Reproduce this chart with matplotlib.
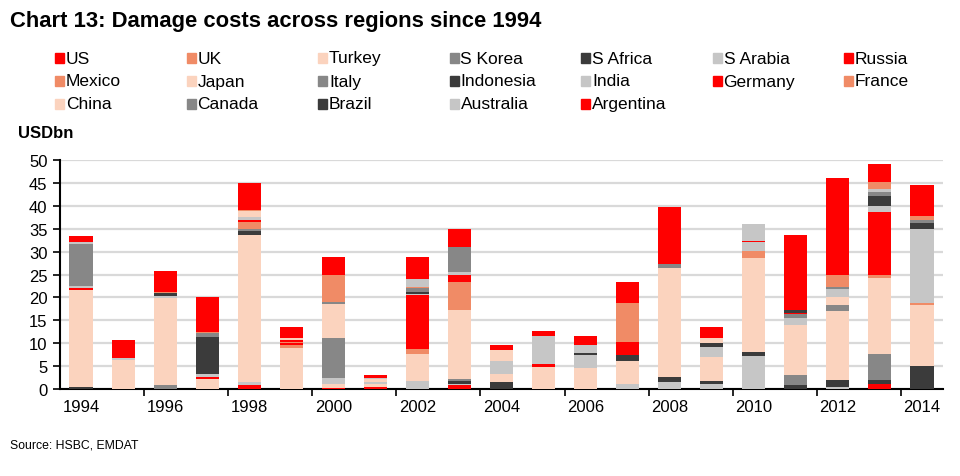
import matplotlib
matplotlib.use("Agg")
import matplotlib.pyplot as plt
from matplotlib.patches import Rectangle
import numpy as np

plt.rcParams["font.family"] = ["Liberation Sans", "DejaVu Sans"]

years = list(range(1994, 2015))

# legend order (row by row, as in the reference)
legend_names = [
    "US", "UK", "Turkey", "S Korea", "S Africa", "S Arabia", "Russia",
    "Mexico", "Japan", "Italy", "Indonesia", "India", "Germany", "France",
    "China", "Canada", "Brazil", "Australia", "Argentina",
]

RED, SALMON, PEACH, GRAY, DARK, LGRAY = "#FF0000", "#F08B66", "#FBD3BE", "#878787", "#3B3B3B", "#C6C6C6"
legend_colors = [RED, SALMON, PEACH, GRAY, DARK, LGRAY] * 3 + [RED]

# values in USD bn, one entry per year 1994..2014
#                1994 95   96   97   98   99  2000  01   02   03   04   05   06   07   08   09  2010  11   12   13   14
argentina = [0,   0,   0,   0,   0.9, 0,   0.3, 0.4, 0,   0.9, 0,   0,   0,   0,   0,   0,   0,   0,   0,   1.1, 0]
australia = [0,   0,   0,   0,   0.6, 0,   0,   0,   1.7, 0.3, 0,   0,   0,   1.1, 1.5, 1.1, 7.3, 0,   0.4, 0,   0]
brazil    = [0.4, 0,   0,   0,   0,   0,   0,   0,   0,   0.6, 1.5, 0,   0,   0,   1.2, 0.6, 0.7, 0.9, 1.6, 0.9, 5.0]
canada    = [0,   0,   0.9, 0,   0,   0,   0,   0,   0,   0.4, 0,   0,   0,   0,   0,   0,   0,   2.2, 0,   5.6, 0]
china     = [21.3, 6.4, 18.9, 2.2, 32.1, 8.9, 0.9, 0.6, 6.0, 15.0, 1.8, 4.9, 4.5, 5.1, 23.7, 5.2, 20.5, 10.9, 15.0, 16.6, 13.4]
france    = [0,   0,   0,   0,   0,   0.6, 0,   0,   1.1, 6.1, 0,   0,   0,   0,   0,   0,   1.6, 0,   0,   0.7, 0.4]
germany   = [0.4, 0,   0,   0.5, 0,   0.5, 0,   0,   11.7, 1.6, 0,  0.5, 0,   0,   0,   0,   0,   0,   0,   13.7, 0]
india     = [0.3, 0.3, 0.6, 0.5, 0,   0,   1.3, 0.5, 0.3, 0.7, 2.8, 6.2, 2.9, 0,   0,   2.2, 2.1, 1.6, 0,   1.4, 16.1]
indonesia = [0,   0,   0.5, 8.1, 1.0, 0,   0,   0,   0.4, 0,   0,   0,   0.5, 1.2, 0,   0.9, 0,   0,   0,   2.2, 1.3]
italy     = [9.3, 0,   0,   0.9, 0.3, 0,   8.6, 0,   0.8, 5.3, 0,   0,   0,   0,   0.9, 0,   0,   0.8, 1.4, 0.8, 0.8]
japan     = [0,   0,   0,   0,   0,   0,   7.4, 0.6, 0,   0,   2.4, 0,   0,   0,   0,   1.1, 0,   0,   1.6, 0,   0]
mexico    = [0,   0,   0.3, 0.3, 1.6, 0.3, 0,   0,   0.3, 0,   0,   0,   0,   0,   0,   0,   0,   0,   0,   0,   0.7]
russia    = [0,   0.5, 1.2, 0,   0.5, 0.5, 0,   0,   0,   0,   0,   0,   0,   2.9, 0,   0,   0.2, 0.3, 0,   0,   0]
s_arabia  = [0.3, 0,   0,   0,   0.5, 0,   0,   0.3, 1.7, 0,   0,   0,   1.6, 0,   0,   0,   3.6, 0,   1.8, 0.6, 0]
s_africa  = [0,   0,   0,   0,   0,   0,   0,   0,   0,   0,   0,   0,   0,   0,   0,   0,   0,   0.5, 0,   0,   0]
s_korea   = [0,   0,   0,   0,   0,   0,   0.4, 0,   0,   0,   0,   0,   0,   0,   0,   0,   0,   0,   0.4, 0,   0]
turkey    = [0,   0,   0,   0,   1.3, 0.4, 0,   0,   0,   0,   0,   0,   0,   0,   0,   0,   0,   0,   0,   0,   0]
uk        = [0,   0,   0,   0,   0.3, 0,   6.0, 0,   0,   0,   0,   0,   0,   8.5, 0,   0,   0,   0,   2.7, 1.6, 0]
us        = [1.3, 3.6, 3.3, 7.5, 5.9, 2.4, 4.0, 0.7, 4.9, 4.0, 1.1, 1.1, 2.0, 4.5, 12.4, 2.5, 0,   16.5, 21.2, 3.9, 6.9]

# stacking order, bottom to top
stack = [
    ("Argentina", argentina), ("Australia", australia), ("Brazil", brazil),
    ("Canada", canada), ("China", china), ("France", france),
    ("Germany", germany), ("India", india), ("Indonesia", indonesia),
    ("Italy", italy), ("Japan", japan), ("Mexico", mexico),
    ("Russia", russia), ("S Arabia", s_arabia), ("S Africa", s_africa),
    ("S Korea", s_korea), ("Turkey", turkey), ("UK", uk), ("US", us),
]
color_of = dict(zip(legend_names, legend_colors))


def main():
    fig = plt.figure(figsize=(9.6, 4.77), dpi=100)
    ax = fig.add_axes([60 / 960, 1 - 390 / 477, 883 / 960, 229 / 477])

    bottom = np.zeros(len(years))
    for name, vals in stack:
        v = np.array(vals, dtype=float)
        ax.bar(years, v, bottom=bottom, width=0.55, color=color_of[name],
               linewidth=0, zorder=3)
        bottom += v

    ax.set_xlim(1993.5, 2014.5)
    ax.set_ylim(0, 50)
    ax.set_yticks(range(0, 51, 5))
    ax.yaxis.grid(True, color="#D9D9D9", linewidth=1.6, zorder=0)
    ax.set_axisbelow(True)

    ax.set_xticks(years[::2])
    ax.set_xticklabels([str(y) for y in years[::2]])
    ax.set_xticks(np.arange(1995.5, 2014, 2), minor=True)
    ax.tick_params(axis="x", which="major", length=0, pad=7, labelsize=12)
    ax.tick_params(axis="x", which="minor", length=5, width=1.2, direction="out")
    ax.tick_params(axis="y", length=5, width=1.2, labelsize=12, pad=4)

    for s in ("top", "right"):
        ax.spines[s].set_visible(False)
    for s in ("left", "bottom"):
        ax.spines[s].set_linewidth(1.5)
        ax.spines[s].set_color("black")

    fig.text(10 / 960, 1 - 22 / 477, "Chart 13: Damage costs across regions since 1994",
             fontsize=15.8, fontweight="bold", va="center", ha="left")
    fig.text(18 / 960, 1 - 133 / 477, "USDbn", fontsize=12, fontweight="bold",
             va="center", ha="left")
    fig.text(10 / 960, 1 - 446 / 477, "Source: HSBC, EMDAT", fontsize=8.8,
             va="center", ha="left")

    # legend laid out row by row like the original
    for i, name in enumerate(legend_names):
        row, col = divmod(i, 7)
        x0 = 55 + col * 131.5
        yc = 59 + row * 23
        fig.patches.append(Rectangle((x0 / 960, 1 - (yc + 5) / 477), 9 / 960, 10 / 477,
                                     transform=fig.transFigure, color=legend_colors[i]))
        fig.text((x0 + 11) / 960, 1 - yc / 477, name, fontsize=12.5,
                 va="center", ha="left")

    fig.savefig("out.png", dpi=100)
    plt.close(fig)


if __name__ == "__main__":
    main()
